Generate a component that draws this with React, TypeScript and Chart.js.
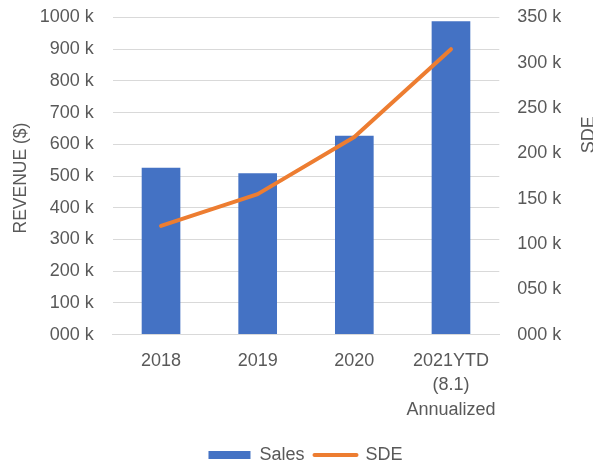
import React, { useEffect, useRef } from "react";
import { Chart, registerables } from "chart.js";

Chart.register(...registerables);

const categories: (string | string[])[] = ["2018", "2019", "2020", ["2021YTD", "(8.1)", "Annualized"]];
const salesValues = [526, 509, 627, 988];
const sdeValues = [120, 155, 218, 315];
const seriesLabels = ["Sales", "SDE"];
const leftTitle = "REVENUE ($)";
const rightTitle = "SDE";

const BLUE = "#4472C4";
const ORANGE = "#ED7D31";
const TEXT = "#595959";
const GRID = "#D9D9D9";
const FONT = "'Liberation Sans', Arial, sans-serif";

const fmtK = (v: number | string) => String(Math.round(Number(v))).padStart(3, "0") + " k";

const axisTitles = {
  id: "axisTitles",
  afterDraw(chart: any) {
    const { ctx, chartArea } = chart;
    ctx.save();
    ctx.fillStyle = TEXT;
    ctx.font = `17.5px ${FONT}`;
    ctx.textAlign = "center";
    ctx.textBaseline = "middle";
    ctx.save();
    ctx.translate(21, (chartArea.top + chartArea.bottom) / 2 + 2);
    ctx.rotate(-Math.PI / 2);
    ctx.fillText(leftTitle, 0, 0);
    ctx.restore();
    ctx.save();
    ctx.font = `18px ${FONT}`;
    ctx.translate(chart.width - 4, chartArea.top + (chartArea.bottom - chartArea.top) * 0.37);
    ctx.rotate(-Math.PI / 2);
    ctx.fillText(rightTitle, 0, 0);
    ctx.restore();
    ctx.restore();
  },
};

export default function App() {
  const ref = useRef<HTMLCanvasElement>(null);
  useEffect(() => {
    if (!ref.current) return;
    Chart.defaults.font.family = FONT;
    const noPad = (s: any) => {
      s.paddingTop = 0;
      s.paddingBottom = 0;
    };
    const chart = new Chart(ref.current, {
      type: "bar",
      data: {
        labels: categories as any,
        datasets: [
          {
            type: "bar",
            label: seriesLabels[0],
            data: salesValues,
            backgroundColor: BLUE,
            yAxisID: "y",
            categoryPercentage: 1,
            barPercentage: 0.4,
            order: 2,
          },
          {
            type: "line",
            label: seriesLabels[1],
            data: sdeValues,
            borderColor: ORANGE,
            backgroundColor: ORANGE,
            borderWidth: 4,
            pointRadius: 0,
            tension: 0,
            borderCapStyle: "round",
            borderJoinStyle: "round",
            yAxisID: "y1",
            order: 1,
          } as any,
        ],
      },
      options: {
        animation: false,
        responsive: false,
        maintainAspectRatio: false,
        layout: { padding: { left: 18, right: 0, top: 17.5, bottom: -9 } },
        plugins: {
          tooltip: { enabled: false },
          legend: {
            position: "bottom",
            labels: {
              usePointStyle: true,
              pointStyleWidth: 42,
              boxHeight: 8,
              padding: 10,
              color: TEXT,
              font: { size: 18, family: FONT },
              generateLabels: (c: any) =>
                c.data.datasets.map((ds: any, i: number) => ({
                  text: ds.label,
                  fillStyle: i === 0 ? BLUE : ORANGE,
                  strokeStyle: i === 0 ? BLUE : ORANGE,
                  lineWidth: i === 0 ? 0 : 4,
                  lineCap: "round",
                  pointStyle: i === 0 ? "rect" : "line",
                  hidden: false,
                  datasetIndex: i,
                  fontColor: TEXT,
                })),
            },
          },
        },
        scales: {
          x: {
            grid: { display: false, drawTicks: false },
            border: { display: true, color: GRID, width: 1 },
            ticks: {
              color: TEXT,
              padding: 14,
              font: { size: 18, family: FONT, lineHeight: 1.36 },
              maxRotation: 0,
              autoSkip: false,
            },
          },
          y: {
            position: "left",
            min: 0,
            max: 1000,
            grid: { color: GRID, drawTicks: false, lineWidth: 1 },
            border: { display: false },
            ticks: {
              stepSize: 100,
              color: TEXT,
              padding: 19,
              font: { size: 18, family: FONT },
              callback: (v: any) => fmtK(v),
            },
            afterFit: (s: any) => {
              s.width = 94.7;
              noPad(s);
            },
          },
          y1: {
            position: "right",
            min: 0,
            max: 350,
            grid: { display: false, drawTicks: false },
            border: { display: false },
            ticks: {
              stepSize: 50,
              color: TEXT,
              padding: 18,
              font: { size: 18, family: FONT },
              callback: (v: any) => fmtK(v),
            },
            afterFit: (s: any) => {
              s.width = 93.7;
              noPad(s);
            },
          },
        },
      },
      plugins: [axisTitles],
    });
    return () => chart.destroy();
  }, []);
  return (
    <div style={{ position: "absolute", left: 0, top: 0, width: 593, height: 465 }}>
      <canvas ref={ref} width={593} height={465} style={{ display: "block" }} />
    </div>
  );
}
